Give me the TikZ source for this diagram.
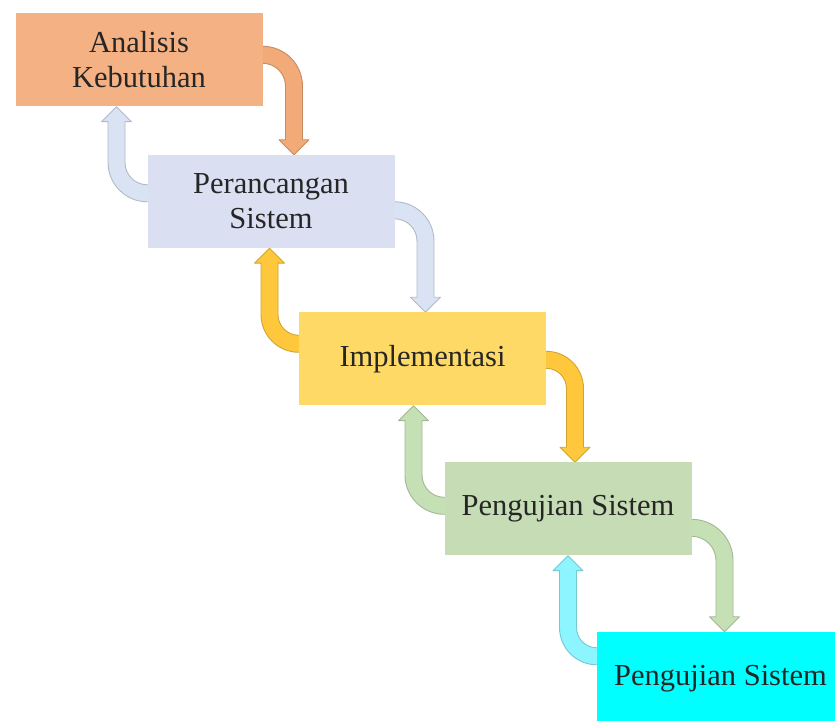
\documentclass[tikz,border=0pt]{standalone}
\usepackage{fontspec}
\setmainfont{Liberation Serif}
\usetikzlibrary{calc}
\pgfdeclarelayer{bg}
\pgfsetlayers{bg,main}

\definecolor{txtc}{HTML}{262626}
\definecolor{orbox}{HTML}{F4B183}
\definecolor{blbox}{HTML}{DAE0F2}
\definecolor{yebox}{HTML}{FFD966}
\definecolor{grbox}{HTML}{C5DCB4}
\definecolor{cybox}{HTML}{00FFFF}
\definecolor{orarr}{HTML}{F2AA78}
\definecolor{blarr}{HTML}{DAE3F3}
\definecolor{yearr}{HTML}{FFC83C}
\definecolor{grarr}{HTML}{C5E0B4}
\definecolor{cyarr}{HTML}{8CF5FF}

% Bent block arrow: leaves the right side of a box and bends down to the tip.
% #1 style, #2 upper edge of the band at the box side, #3 tip point
\newcommand{\flowdown}[3]{%
  \path[#1] let \p1=(#2), \p2=(#3),
      \n1={\x2+8.5pt-\x1}, \n2={\x2-8.5pt-\x1} in
    (\x1-3pt,\y1) -- (\x1,\y1)
      .. controls +({0.552*\n1},0) and +(0,{0.552*\n1}) .. (\x1+\n1,\y1-\n1)
    -- (\x1+\n1,\y2+15pt) -- (\x2+15pt,\y2+15pt) -- (\x2,\y2)
    -- (\x2-15pt,\y2+15pt) -- (\x1+\n2,\y2+15pt) -- (\x1+\n2,\y1-\n1)
      .. controls +(0,{0.552*\n2}) and +({0.552*\n2},0) .. (\x1,\y1-17pt)
    -- (\x1-3pt,\y1-17pt) -- cycle;}

% Bent block arrow: leaves the left side of a box and bends up to the tip.
% #1 style, #2 lower edge of the band at the box side, #3 tip point
\newcommand{\flowup}[3]{%
  \path[#1] let \p1=(#2), \p2=(#3),
      \n1={\x1-\x2+8.5pt}, \n2={\x1-\x2-8.5pt} in
    (\x1+3pt,\y1) -- (\x1,\y1)
      .. controls +({-0.552*\n1},0) and +(0,{-0.552*\n1}) .. (\x1-\n1,\y1+\n1)
    -- (\x1-\n1,\y2-15pt) -- (\x2-15pt,\y2-15pt) -- (\x2,\y2)
    -- (\x2+15pt,\y2-15pt) -- (\x1-\n2,\y2-15pt) -- (\x1-\n2,\y1+\n1)
      .. controls +(0,{-0.552*\n2}) and +({-0.552*\n2},0) .. (\x1,\y1+17pt)
    -- (\x1+3pt,\y1+17pt) -- cycle;}

\begin{document}
\begin{tikzpicture}[x=1pt,y=1pt,
  stage/.style={minimum width=247pt, minimum height=93pt, inner sep=0pt,
    align=center, text=txtc, font=\fontsize{30.5}{35}\selectfont},
  bent/.style={fill=#1, draw=#1!82!black, line width=0.9pt, line join=round}]
\useasboundingbox (0,0) rectangle (835,720);

% process stages
\node[stage, fill=orbox] (b1) at (139,660) {Analisis\\Kebutuhan};
\node[stage, fill=blbox] (b2) at (271,518.5) {Perancangan\\Sistem};
\node[stage, fill=yebox] (b3) at (422.5,361) {Implementasi};
\node[stage, fill=grbox] (b4) at (568,211) {Pengujian Sistem};
\node[stage, fill=cybox] (b5) at (720.5,41.5) {Pengujian Sistem};

% connectors between the stages, behind the boxes
\begin{pgfonlayer}{bg}
  \flowdown{bent=orarr}{[yshift=-33pt]b1.north east}{[xshift=23pt]b2.north}
  \flowdown{bent=blarr}{[yshift=-47pt]b2.north east}{[xshift=3pt]b3.north}
  \flowdown{bent=yearr}{[yshift=-39pt]b3.north east}{[xshift=7pt]b4.north}
  \flowdown{bent=grarr}{[yshift=-57pt]b4.north east}{[xshift=4pt]b5.north}
  \flowup{bent=blarr}{[yshift=-47pt]b2.north west}{[xshift=-22.5pt]b1.south}
  \flowup{bent=yearr}{[yshift=-40pt]b3.north west}{[xshift=-1.5pt]b2.south}
  \flowup{bent=grarr}{[yshift=-52pt]b4.north west}{[xshift=-9pt]b3.south}
  \flowup{bent=cyarr}{[yshift=-33pt]b5.north west}{[xshift=0pt]b4.south}
\end{pgfonlayer}
\end{tikzpicture}
\end{document}
